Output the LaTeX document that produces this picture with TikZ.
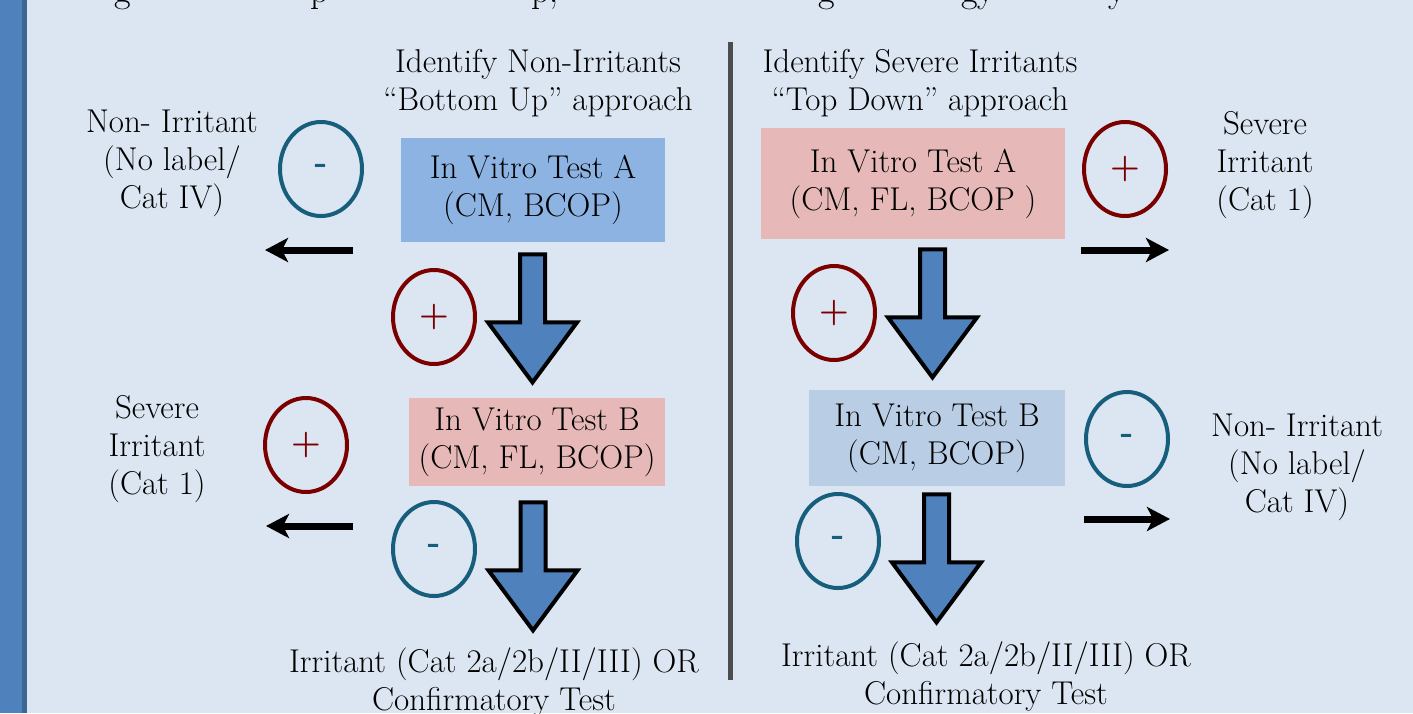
\documentclass[tikz,border=0pt]{standalone}
\usetikzlibrary{arrows.meta,shapes.geometric,calc}

\definecolor{pagebg}{HTML}{DCE6F2}
\definecolor{barblue}{HTML}{4F81BD}
\definecolor{bardark}{HTML}{3C6794}
\definecolor{dividergray}{HTML}{4D4D4D}
\definecolor{boxblue}{HTML}{8DB3E2}
\definecolor{boxpink}{HTML}{E6B9B8}
\definecolor{boxpale}{HTML}{B9CDE5}
\definecolor{arrowblue}{HTML}{4F81BD}
\definecolor{posred}{HTML}{7A0000}
\definecolor{negteal}{HTML}{175E7C}

% downward block arrow hanging from a named top-centre coordinate
\newcommand\blockdown[1]{%
  \draw[blockarrow] (#1) ++(-12.5,0) -- ++(25,0) -- ++(0,68) -- ++(32,0)
    -- ++(-44.5,60) -- ++(-44.5,-60) -- ++(32,0) -- cycle;}

\tikzset{
  txtfont/.style={font=\fontsize{16.5}{19}\selectfont, align=center, inner sep=0pt},
  caption/.style={txtfont, execute at begin node=\strut, execute at end node=\strut},
  testbox/.style={txtfont,
    execute at begin node={\rule{0pt}{15.3pt}},
    execute at end node={\rule[-3.7pt]{0pt}{3.7pt}}},
  ring/.style={ellipse, line width=2pt, minimum width=41pt, minimum height=47pt,
    inner sep=0pt, font=\fontsize{17}{20}\bfseries\selectfont},
  posring/.style={ring, draw=posred, text=posred},
  negring/.style={ring, draw=negteal, text=negteal},
  outcome/.style={line width=3.5pt, -{Stealth[length=11.5pt,width=12pt,inset=3pt]}},
  blockarrow/.style={fill=arrowblue, draw=black, line width=2pt, line join=miter},
  cutline/.style={font=\fontsize{18}{22}\selectfont, inner sep=0pt, anchor=base},
}

\begin{document}
\begin{tikzpicture}[x=0.5pt,y=-0.5pt]
\useasboundingbox (0,0) rectangle (1413,713);
\fill[pagebg] (0,0) rectangle (1413,713);
\fill[barblue] (0,0) rectangle (22,713);
\fill[bardark] (22,0) rectangle (27,713);

% descenders of the heading line running off the top edge
\node[cutline] (h1) at (123,2) {g};
\node[cutline] (h2) at (320,2) {p};
\node[cutline, anchor=base west] (h3) at (531,2) {p,};
\node[cutline] (h4) at (827,2) {g};
\node[cutline] (h5) at (978,2) {gy};
\node[cutline] (h6) at (1117,2) {y};

% divider between the two strategies
\draw[dividergray, line width=2.5pt] (730,42) -- (730,680);

% ---------- Bottom Up ----------
\node[caption] (ltitle) at (538,86) {Identify Non-Irritants\\“Bottom Up” approach};
\node[testbox, fill=boxblue, minimum width=132pt, minimum height=52pt] (lA) at (533,190)
  {In Vitro Test A\\(CM, BCOP)};
\node[testbox, fill=boxpink, minimum width=128pt, minimum height=44pt] (lB) at (537,442)
  {In Vitro Test B\\(CM, FL, BCOP)};

\node[negring] (ln1) at (321,169) {-};
\node[posring] (lp1) at (434,317) {+};
\node[posring] (lp2) at (306,445) {+};
\node[negring] (ln2) at (434,549) {-};

\node[caption] (lnon) at (172,165) {Non- Irritant\\(No label/\\Cat IV)};
\node[caption] (lsev) at (157,451) {Severe\\Irritant\\(Cat 1)};
\node[caption] (lend) at (494,685) {Irritant (Cat 2a/2b/II/III) OR\\Confirmatory Test};

\coordinate (la1s) at (353,250); \coordinate (la1e) at (265,250);
\coordinate (la2s) at (353,526); \coordinate (la2e) at (266,526);
\draw[outcome] (la1s) -- (la1e);
\draw[outcome] (la2s) -- (la2e);

\coordinate (lb1) at ($(lA.south)+(-0.5,12)$);
\coordinate (lb2) at ($(lB.south)+(-4,16)$);
\blockdown{lb1}
\blockdown{lb2}

% ---------- Top Down ----------
\node[caption] (rtitle) at (920,86) {Identify Severe Irritants\\“Top Down” approach};
\node[testbox, fill=boxpink, minimum width=152pt, minimum height=55.5pt] (rA) at (913,183.5)
  {In Vitro Test A\\(CM, FL, BCOP )};
\node[testbox, fill=boxpale, minimum width=128pt, minimum height=48pt] (rB) at (937,438)
  {In Vitro Test B\\(CM, BCOP)};

\node[posring] (rp1) at (1125,169) {+};
\node[posring] (rp2) at (834,313) {+};
\node[negring] (rn1) at (1127,439) {-};
\node[negring] (rn2) at (838,541) {-};

\node[caption] (rsev) at (1265,167) {Severe\\Irritant\\(Cat 1)};
\node[caption] (rnon) at (1297,469) {Non- Irritant\\(No label/\\Cat IV)};
\node[caption] (rend) at (986,679) {Irritant (Cat 2a/2b/II/III) OR\\Confirmatory Test};

\coordinate (ra1s) at (1081,250); \coordinate (ra1e) at (1169,250);
\coordinate (ra2s) at (1084,519); \coordinate (ra2e) at (1170,519);
\draw[outcome] (ra1s) -- (ra1e);
\draw[outcome] (ra2s) -- (ra2e);

\coordinate (rb1) at ($(rA.south)+(19.5,10)$);
\coordinate (rb2) at ($(rB.south)+(-0.5,8)$);
\blockdown{rb1}
\blockdown{rb2}
\end{tikzpicture}
\end{document}
